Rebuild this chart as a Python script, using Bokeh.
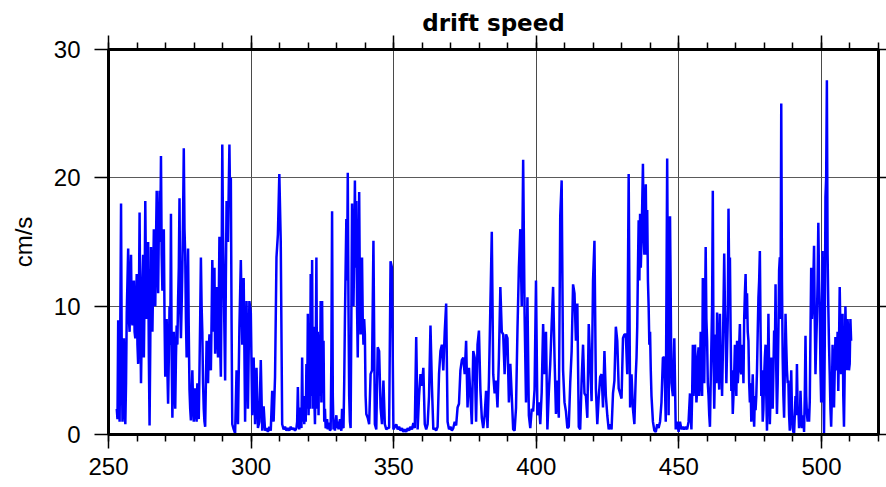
from bokeh.plotting import figure
from bokeh.models import LinearAxis, SingleIntervalTicker, Range1d, Grid, ColumnDataSource, CustomJSTickFormatter
from bokeh.embed import file_html
from bokeh.resources import INLINE

# sampling steps (days) of the hand-read series
STEP = 0.5
STEP_FINE = 0.25

# drift speed (cm/s)
start_a = 252.9
speed_a = [2.0, 1.2, 8.9, 4.0, 1.0, 9.0, 18.0, 6.0, 1.0, 3.0,
           7.5, 2.0, 0.8, 4.0, 9.5, 12.0, 14.5, 9.0, 8.0, 12.0,
           14.0, 9.0, 8.5, 11.0, 12.0, 8.0, 7.5, 10.0, 12.5, 7.0,
           5.5, 10.0, 17.3, 9.0, 4.0, 8.0, 12.0, 14.0, 6.0, 11.0,
           18.2, 12.0, 9.0, 13.0, 15.0, 6.0, 0.7, 7.0, 14.6, 10.0,
           8.0, 12.0, 16.0, 12.5, 10.0, 15.0, 19.0, 14.0, 11.0, 16.0,
           19.0, 15.0, 21.7, 14.0, 11.2, 13.0, 16.0, 9.0, 4.5, 7.0,
           9.0, 5.0, 2.4, 6.0, 10.0, 7.0, 17.2, 6.0, 1.3, 5.0,
           8.0, 4.0, 2.0, 6.0, 8.5, 7.0, 10.5, 13.0, 18.4, 10.0,
           7.5, 10.0, 13.0, 17.0, 22.3, 16.0, 14.0, 9.0, 6.0, 10.0,
           14.5, 8.0, 3.5, 2.0, 1.1, 3.0, 5.0, 2.5, 1.0, 2.0,
           3.6, 2.0, 1.0, 4.0, 2.0, 1.2, 5.0, 9.0, 13.8, 10.0]

start_b1 = 282.9
speed_b1 = [8.0, 4.0, 2.0, 1.0, 0.6, 4.0, 7.3, 5.0, 4.0, 6.5,
            7.8, 6.0, 5.0, 9.0, 13.6, 10.0, 8.0, 13.0, 6.3, 9.0,
            11.5, 8.0, 6.0, 10.0, 15.4, 7.0, 4.5, 12.0, 22.6, 16.0,
            12.0, 8.0, 4.2, 12.0, 18.2, 16.0, 15.0, 19.0, 22.6, 18.0,
            20.0, 9.0]

start_b2 = 293.4
speed_b2 = [0.8, 0.4, 0.1, 5.0, 0.8, 8.3, 13.6, 7.0, 12.2, 1.0,
            10.4, 2.0, 10.4, 9.5, 1.5, 6.0, 0.8, 5.2, 0.5, 1.0,
            5.8, 0.3, 2.2, 0.3, 0.5, 0.2, 0.6, 0.3, 3.4, 1.0,
            4.5, 13.8, 15.6, 20.3, 15.0, 0.8, 0.4, 0.6, 0.3, 0.5,
            0.3, 0.6, 0.4, 0.5, 0.3]

start_c1 = 315.9
speed_c1 = [0.5, 1.0, 3.7, 1.0, 0.4, 1.5, 2.1, 0.5, 6.0, 1.0,
            2.5, 0.8, 3.0, 1.0, 5.5, 2.0, 9.4, 1.5, 5.0, 2.0,
            12.5, 3.0, 13.6, 2.0, 8.4, 3.0, 0.8, 6.0, 13.8, 2.0,
            8.0, 1.5, 7.8, 3.0, 10.4, 2.5, 10.4, 4.0, 7.3, 1.0,
            2.0, 0.5, 0.6, 1.2, 0.4, 0.9, 0.8, 0.3, 0.4, 6.0,
            17.4, 3.0, 0.4, 0.8, 0.3, 1.0, 1.5, 0.5, 1.0, 0.4,
            0.8, 1.2, 0.6, 0.3, 2.0, 0.6, 0.5, 4.0, 9.0, 13.0,
            16.8, 12.0, 20.4, 10.0, 3.0, 1.0, 0.5, 9.0, 18.0, 12.0,
            10.0, 14.0, 19.8, 13.0, 18.2, 10.0, 6.0, 12.0, 18.9, 11.0,
            7.8, 10.0, 13.8, 9.0, 7.0, 9.0, 7.8, 3.0]

start_c2 = 340.4
speed_c2 = [1.6, 1.3, 0.8, 4.7, 5.0, 15.1, 0.8, 0.4, 6.8, 6.5,
            2.1, 0.8, 4.2, 0.8, 0.4, 0.5, 0.5]

start_d = 348.9
speed_d = [13.5, 13.0, 0.4, 0.6, 0.8, 0.4, 0.6, 0.3, 0.5, 0.2,
           0.4, 0.2, 0.5, 0.3, 0.6, 0.4, 0.9, 0.5, 7.6, 0.4,
           3.0, 4.7, 3.8, 5.2, 0.8, 0.4, 0.8, 3.0, 8.5, 3.8,
           0.4, 0.5, 0.3, 0.6, 4.7, 6.5, 7.0, 5.0, 8.0, 10.2,
           1.0, 0.4, 0.6, 0.3, 0.5, 1.0, 0.7, 2.1, 2.4, 5.0,
           5.8, 6.0, 4.7, 7.3, 2.1, 5.2, 3.0, 0.8, 6.5, 6.0,
           1.0, 7.0, 8.1, 3.5, 1.3, 0.5]

start_e = 381.9
speed_e = [1.5, 3.4, 0.5, 4.2, 10.0, 15.8, 4.7, 3.2, 4.2, 2.1,
           6.0, 11.5, 8.0, 7.8, 4.7, 7.8, 7.5, 2.5, 5.5, 3.0,
           0.4, 0.3, 2.1, 8.1, 13.0, 16.0, 10.0, 21.4, 9.4, 2.5,
           10.7, 1.5, 0.5, 2.0, 1.8, 3.5, 12.0, 1.5, 2.5, 0.8,
           3.3, 8.6, 4.7, 8.0, 0.4, 3.3, 5.5, 8.6, 11.5, 6.0,
           1.6, 4.2, 1.3, 17.0, 19.8, 5.0, 2.5, 1.8, 0.5, 0.6,
           4.0, 6.5, 11.7, 11.0, 7.3, 10.2]

start_f1 = 414.9
speed_f1 = [0.6, 0.4, 4.2, 7.0, 3.2, 3.0, 1.3, 8.6, 5.5, 2.6,
            12.0, 15.1, 3.6, 0.8, 2.9, 4.5, 4.7, 2.1, 6.5, 3.0,
            1.5, 0.4, 0.8, 0.4, 3.2, 4.2, 8.4, 7.3, 3.6, 3.2,
            2.8, 7.5, 7.8, 7.8, 4.7, 20.3, 2.1, 4.7, 2.0, 0.8,
            4.7]

start_f2 = 435.15
speed_f2 = [6.0, 8.4, 13.0, 16.7, 12.0, 17.2, 13.0, 15.0, 18.0, 21.1,
            16.0, 14.0, 17.0, 19.5, 14.0, 17.5, 12.0, 10.0, 7.0, 8.0,
            5.0]

start_f3 = 440.4
speed_f3 = [3.0, 1.0, 0.3, 0.2, 0.8, 0.5, 1.0, 2.5, 6.0, 6.0,
            1.0, 21.5, 1.5, 17.0, 4.0]

start_g1 = 447.9
speed_g1 = [3.0, 7.5, 0.4, 1.0, 0.2, 1.0, 0.4, 0.6, 0.4, 0.6,
            0.4, 1.0, 3.2]

start_g2 = 454.15
speed_g2 = [1.5, 0.4, 3.0, 7.0, 3.0, 4.0, 7.0, 5.5, 2.5, 3.4,
            6.0, 6.8, 3.0, 4.7, 8.0, 5.0, 3.0, 12.2, 6.0, 4.0,
            9.0, 14.6, 9.0, 7.3, 4.0, 3.0, 1.5, 0.6, 4.0, 7.0,
            10.0, 19.0, 6.0, 2.0, 5.0, 7.8, 4.0, 9.5, 7.0, 5.0,
            3.5, 9.4, 6.0, 5.8, 3.0, 6.0, 10.0, 14.1, 10.0, 8.0,
            4.0, 6.5, 9.0, 17.6, 12.0, 13.8, 8.0, 3.4, 5.0, 1.6,
            3.0, 4.7, 7.0, 5.5, 3.0, 7.3, 4.0, 5.0, 7.0, 8.6,
            5.0, 4.7, 7.0, 6.0, 4.0, 9.0, 11.0, 12.5, 9.0, 11.0,
            8.0, 7.3, 4.0, 2.5, 4.0, 1.0, 3.0, 4.7, 2.0, 0.6,
            3.0, 1.9, 3.0, 5.0, 8.0, 10.7, 12.0, 14.3, 8.0, 3.0,
            5.0, 1.0, 2.0, 4.5, 6.0]

start_h = 480.4
speed_h = [7.0, 3.0, 0.3, 4.0, 9.4, 5.0, 0.8, 3.0, 6.0, 4.0,
           2.0, 5.0, 8.1, 6.0, 11.7, 5.0, 1.6, 4.0, 8.0, 12.8,
           13.8, 9.0, 25.8, 12.0, 6.0, 3.0, 1.3, 5.0, 9.4, 7.0,
           5.0, 4.0, 4.2, 1.5, 0.3, 2.0, 5.0, 2.0, 0.5, 0.2,
           0.1, 1.5, 3.0, 1.5, 5.5, 2.0, 2.1, 0.5, 1.0, 3.4,
           1.6, 0.5, 0.8, 1.5, 0.2, 3.0, 7.7, 3.0, 1.6, 1.0,
           2.0, 1.0, 2.6, 8.0, 13.0, 9.0, 10.0, 12.0, 14.7, 9.0,
           4.7, 7.0, 9.0, 12.0, 16.5, 12.0, 10.0, 5.0, 2.5, 8.0,
           14.3, 5.0, 0.1, 7.0, 18.5, 20.0, 27.6, 14.0, 10.0, 7.0,
           4.7, 2.0, 0.6, 3.0, 7.0, 4.0, 2.1, 5.0, 7.6, 6.0,
           5.0, 8.0, 3.4, 7.0, 11.5, 8.0, 4.7, 7.0, 9.4, 3.0,
           0.6, 5.0, 10.0, 7.0, 5.0, 9.0, 8.0, 5.0, 5.5, 9.0,
           7.3]

segments = [(start_a, STEP_FINE, speed_a), (start_b1, STEP_FINE, speed_b1),
            (start_b2, STEP, speed_b2), (start_c1, STEP_FINE, speed_c1),
            (start_c2, STEP, speed_c2), (start_d, STEP, speed_d),
            (start_e, STEP, speed_e), (start_f1, STEP, speed_f1),
            (start_f2, STEP_FINE, speed_f2), (start_f3, STEP, speed_f3),
            (start_g1, STEP, speed_g1), (start_g2, STEP_FINE, speed_g2),
            (start_h, STEP_FINE, speed_h)]

days, speed = [], []
for s0, step, vals in segments:
    days += [s0 + step * i for i in range(len(vals))]
    speed += vals

x_ticks_interval = 50
y_ticks_interval = 10
title_text = "drift speed"
y_label = "cm/s"

p = figure(width=886, height=487, x_range=Range1d(250, 520), y_range=Range1d(0, 30),
           output_backend="svg", toolbar_location=None,
           x_axis_location=None, y_axis_location=None,
           min_border_left=108, min_border_right=8, min_border_top=49, min_border_bottom=53,
           background_fill_color="white", border_fill_color="white")

for g in list(p.grid):
    g.visible = False

p.outline_line_color = "black"
p.outline_line_width = 3

xt = SingleIntervalTicker(interval=x_ticks_interval, num_minor_ticks=5)
yt = SingleIntervalTicker(interval=y_ticks_interval, num_minor_ticks=0)

p.add_layout(Grid(dimension=0, ticker=xt, grid_line_color="#4a4a4a", grid_line_width=1))
p.add_layout(Grid(dimension=1, ticker=yt, grid_line_color="#5a5a5a", grid_line_width=1))

blank = CustomJSTickFormatter(code="return '';")

def style_axis(ax, labels=True, major=14, minor=7):
    ax.axis_line_color = "black"
    ax.axis_line_width = 3
    ax.major_tick_line_color = "black"
    ax.major_tick_line_width = 1.5
    ax.minor_tick_line_color = "black"
    ax.minor_tick_line_width = 1.5
    ax.major_tick_in = 0
    ax.major_tick_out = major
    ax.minor_tick_in = 0
    ax.minor_tick_out = minor
    ax.major_label_text_font = "Liberation Sans"
    ax.major_label_text_color = "black"
    ax.major_label_text_font_size = "24px"
    if not labels:
        ax.formatter = blank
        ax.major_label_standoff = 0

bottom = LinearAxis(ticker=xt)
style_axis(bottom)
bottom.major_label_standoff = 9
p.add_layout(bottom, "below")

top = LinearAxis(ticker=xt)
style_axis(top, labels=False)
p.add_layout(top, "above")

left = LinearAxis(ticker=yt, axis_label=y_label)
style_axis(left)
left.major_label_standoff = 14
left.axis_label_text_font = "Liberation Sans"
left.axis_label_text_font_size = "24px"
left.axis_label_text_font_style = "normal"
left.axis_label_text_color = "black"
left.axis_label_standoff = 14
p.add_layout(left, "left")

right = LinearAxis(ticker=yt)
style_axis(right, labels=False, major=8, minor=0)
p.add_layout(right, "right")

p.title.text = title_text
p.title.align = "center"
p.title.text_font = "DejaVu Sans"
p.title.text_font_size = "23px"
p.title.text_font_style = "bold"
p.title.text_color = "black"
p.title.standoff = 0
p.title.offset = 0

src = ColumnDataSource(dict(day=days, speed=speed))
p.line("day", "speed", source=src, line_color="#0000ff", line_width=2.5)

open("out.html", "w").write(file_html(p, INLINE))
